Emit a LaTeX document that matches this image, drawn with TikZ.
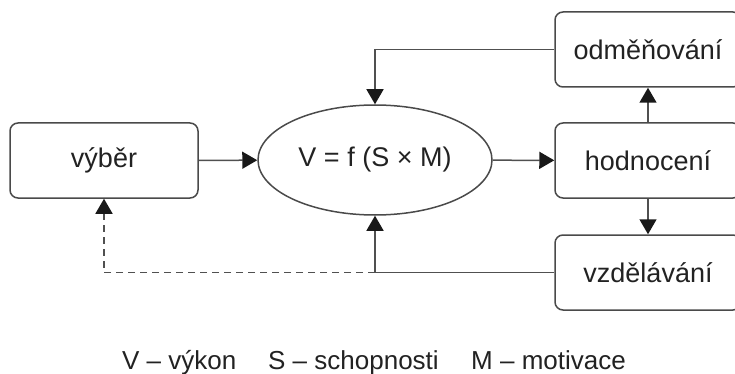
\documentclass[tikz,border=0pt]{standalone}
\usepackage{fontspec}
\setmainfont{Liberation Sans}
\usetikzlibrary{arrows.meta,shapes.geometric}
\definecolor{boxline}{HTML}{4A4A4A}
\definecolor{conn}{HTML}{505050}
\definecolor{txt}{HTML}{222222}
\tikzset{
  box/.style={draw=boxline, line width=1.5pt, rounded corners=8pt, minimum width=188pt, minimum height=75pt, inner sep=0pt, font=\fontsize{27}{30}\selectfont, text=txt},
  oval/.style={ellipse, draw=boxline, line width=1.5pt, minimum width=234pt, minimum height=110pt, inner sep=0pt, font=\fontsize{27}{30}\selectfont, text=txt},
  conn/.style={draw=conn, line width=1.5pt, -{Triangle[length=15pt,width=17pt,color=black!90]}},
  dashconn/.style={conn, dash pattern=on 7pt off 5pt},
  legendtext/.style={anchor=base west, inner sep=0pt, font=\fontsize{26}{30}\selectfont, text=txt},
}
\begin{document}
\begin{tikzpicture}[x=1pt,y=-1pt]
\useasboundingbox[fill=white] (0,0) rectangle (735,374);
\node[box] (vyber) at (104,160.5) {výběr};
\node[oval] (f) at (375,160) {V = f (S × M)};
\node[box, minimum width=186pt] (hod) at (648,160.5) {hodnocení};
\node[box, minimum width=186pt] (odm) at (648,49.5) {odměňování};
\node[box, minimum width=186pt] (vzd) at (648,272.5) {vzdělávání};
\coordinate (j) at (f.south |- vzd.west);
\draw[conn] (vyber) -- (f);
\draw[conn] (f) -- (hod);
\draw[conn] (hod) -- (odm);
\draw[conn] (hod) -- (vzd);
\draw[conn] (odm.west) -| (f.north);
\draw[conn] (vzd.west) -| (f.south);
\draw[dashconn] (j) -| (vyber.south);
\node[legendtext] (leg1) at (122,369) {V – výkon};
\node[legendtext] (leg2) at (268,369) {S – schopnosti};
\node[legendtext] (leg3) at (471,369) {M – motivace};
\end{tikzpicture}
\end{document}
